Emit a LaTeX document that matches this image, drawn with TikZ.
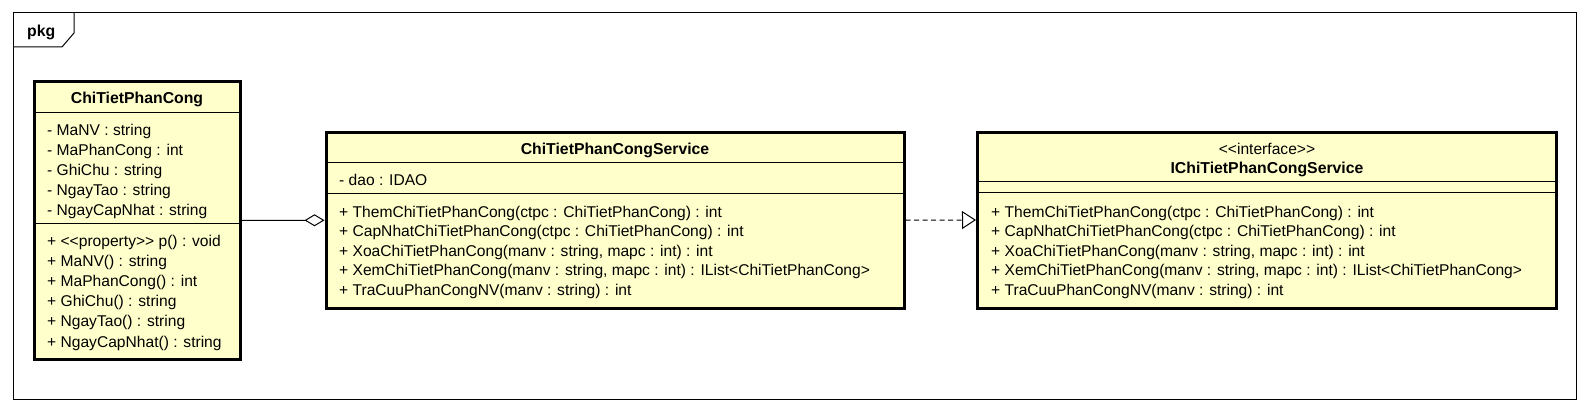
\documentclass[tikz,border=0pt]{standalone}
\usepackage{fontspec}
\newfontfamily\umlfont{Liberation Sans}
\usetikzlibrary{arrows.meta}
\definecolor{classfill}{HTML}{FFFFCC}
\tikzset{
  classbox/.style={draw=black, line width=3pt, fill=classfill, inner sep=0pt, rectangle},
  divider/.style={draw=black, line width=1pt},
  txt/.style={anchor=base west, inner sep=0pt, font=\umlfont\fontsize{15.6}{18}\selectfont},
  ttl/.style={anchor=base, inner sep=0pt, font=\umlfont\bfseries\fontsize{15.8}{18}\selectfont},
  ster/.style={anchor=base, inner sep=0pt, font=\umlfont\fontsize{15.6}{18}\selectfont},
  conn/.style={draw=black, line width=1pt},
}
\begin{document}
\begin{tikzpicture}[x=1pt,y=-1pt]
\useasboundingbox (0,0) rectangle (1589,412);
% package frame
\node[draw=black, line width=1pt, outer sep=0pt, inner sep=0pt, minimum width=1563pt, minimum height=386pt, anchor=north west] (frame) at (13,13) {};
\draw[line width=1pt] (frame.north west) ++(0,34) -- ++(49,0) -- ++(12,-14) -- ++(0,-20);
\node[ttl, anchor=base west] (pkglabel) at (27,37) {pkg};

% class 1
\node[classbox, minimum width=206pt, minimum height=278pt] (c1) at (137,220.5) {};
\draw[divider] (34,112) -- (240,112);
\draw[divider] (34,223) -- (240,223);
\node[ttl] (c1name) at (137,103.5) {ChiTietPhanCong};
\foreach \t [count=\i] in {{- MaNV : string},{- MaPhanCong : int},{- GhiChu : string},{- NgayTao : string},{- NgayCapNhat : string}}
  \node[txt] (c1a\i) at (47,{135+20*(\i-1)}) {\t};
\foreach \t [count=\i] in {{+ <<property>> p() : void},{+ MaNV() : string},{+ MaPhanCong() : int},{+ GhiChu() : string},{+ NgayTao() : string},{+ NgayCapNhat() : string}}
  \node[txt] (c1m\i) at (47,{246+20.2*(\i-1)}) {\t};

% class 2
\node[classbox, minimum width=578pt, minimum height=175.5pt] (c2) at (615,220.25) {};
\draw[divider] (326,162) -- (904,162);
\draw[divider] (326,193) -- (904,193);
\node[ttl] (c2name) at (615,154) {ChiTietPhanCongService};
\node[txt] (c2a1) at (339,185.3) {- dao : IDAO};
\foreach \t [count=\i] in {{+ ThemChiTietPhanCong(ctpc : ChiTietPhanCong) : int},{+ CapNhatChiTietPhanCong(ctpc : ChiTietPhanCong) : int},{+ XoaChiTietPhanCong(manv : string, mapc : int) : int},{+ XemChiTietPhanCong(manv : string, mapc : int) : IList<ChiTietPhanCong>},{+ TraCuuPhanCongNV(manv : string) : int}}
  \node[txt] (c2m\i) at (339,{217+19.5*(\i-1)}) {\t};

% class 3
\node[classbox, minimum width=578.5pt, minimum height=176pt] (c3) at (1266.75,220) {};
\draw[divider] (977.5,181.5) -- (1556,181.5);
\draw[divider] (977.5,192.5) -- (1556,192.5);
\node[ster] (c3st) at (1267,154) {<<interface>>};
\node[ttl] (c3name) at (1267,173) {IChiTietPhanCongService};
\foreach \t [count=\i] in {{+ ThemChiTietPhanCong(ctpc : ChiTietPhanCong) : int},{+ CapNhatChiTietPhanCong(ctpc : ChiTietPhanCong) : int},{+ XoaChiTietPhanCong(manv : string, mapc : int) : int},{+ XemChiTietPhanCong(manv : string, mapc : int) : IList<ChiTietPhanCong>},{+ TraCuuPhanCongNV(manv : string) : int}}
  \node[txt] (c3m\i) at (991,{217+19.5*(\i-1)}) {\t};

% connectors
\draw[conn, -{Diamond[open, length=20pt, width=12pt]}] (c1.east) -- (c2.west);
\draw[conn, dash pattern=on 5pt off 3.5pt, -{Triangle[open, length=14pt, width=18pt]}] (c2.east) -- (c3.west);
\end{tikzpicture}
\end{document}
